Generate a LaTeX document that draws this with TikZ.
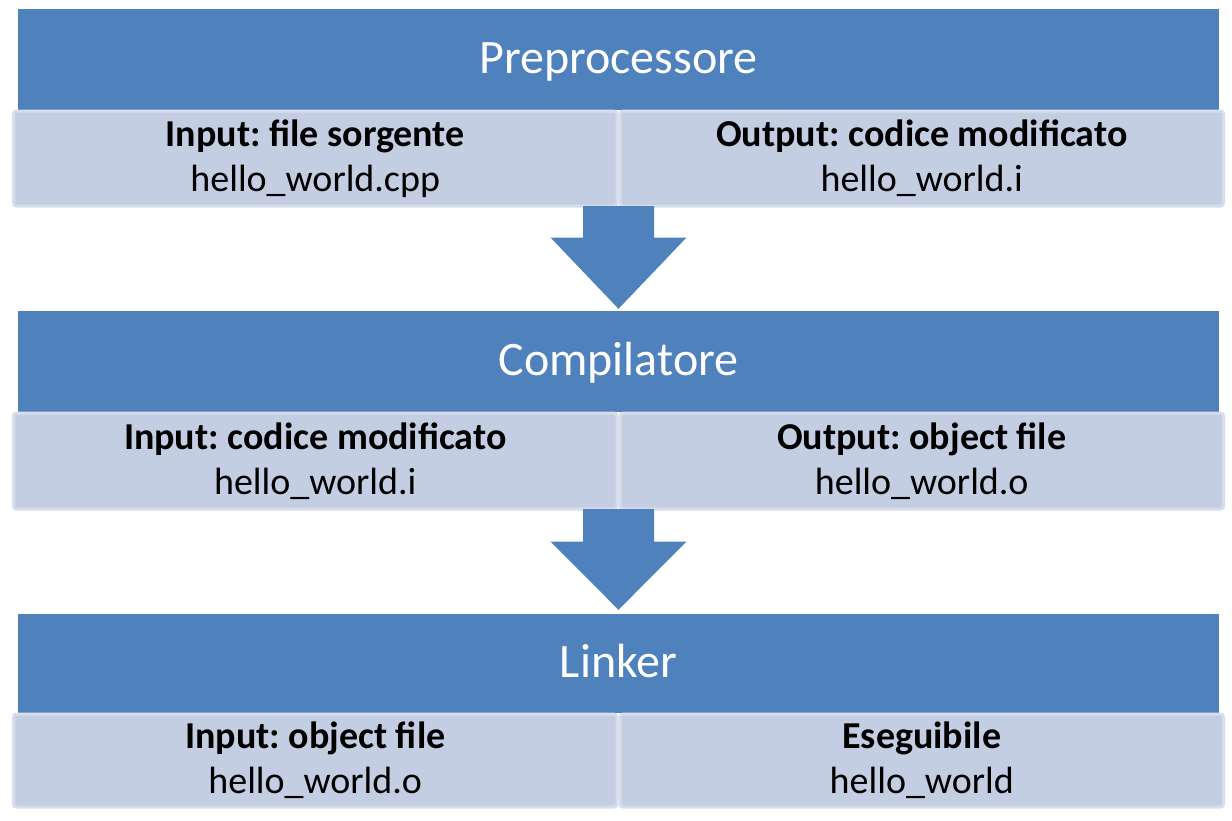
\documentclass[tikz,border=0pt]{standalone}
\usepackage{fontspec}
\setmainfont{Carlito}
\usetikzlibrary{calc}
\frenchspacing
\definecolor{hblue}{RGB}{79,129,189}
\definecolor{cellfill}{RGB}{196,206,227}
\definecolor{cellline}{RGB}{214,221,236}
\tikzset{
  header/.style={fill=hblue, draw=none, inner sep=0pt, text=white, font=\fontsize{48}{56}\selectfont, text height=37pt, text depth=10pt},
  cell/.style={fill=cellfill, draw=cellline, line width=3pt, rounded corners=3pt, inner sep=0pt, align=center, font=\fontsize{38}{45}\selectfont, minimum width=603.5pt},
  blockarrow/.style={fill=hblue, draw=none}
}
\begin{document}
\begin{tikzpicture}[x=1pt,y=-1pt]
\useasboundingbox (0,0) rectangle (1232,820);
% stage 1
\node[header, minimum width=1201pt, minimum height=101pt] (h1) at (618.5,59.5) {Preprocessore};
\node[cell, minimum height=95pt] (l1) at (315.25,158.5) {\textbf{Input: file sorgente}\\hello\_world.cpp};
\node[cell, minimum height=95pt] (r1) at (921.75,158.5) {\textbf{Output: codice modificato}\\hello\_world.i};
% stage 2
\node[header, minimum width=1201pt, minimum height=101pt] (h2) at (618.5,361.5) {Compilatore};
\node[cell, minimum height=96pt] (l2) at (315.25,461) {\textbf{Input: codice modificato}\\hello\_world.i};
\node[cell, minimum height=96pt] (r2) at (921.75,461) {\textbf{Output: object file}\\hello\_world.o};
% stage 3
\node[header, minimum width=1201pt, minimum height=99pt] (h3) at (618.5,663.5) {Linker};
\node[cell, minimum height=93pt] (l3) at (315.25,760.5) {\textbf{Input: object file}\\hello\_world.o};
\node[cell, minimum height=93pt] (r3) at (921.75,760.5) {\textbf{Eseguibile}\\hello\_world};
% arrows
\coordinate (a1) at ($(l1.south east)!0.5!(r1.south west)$);
\coordinate (a1t) at ($(h2.north)+(0,-2)$);
\fill[blockarrow] ($(a1)+(-35.5,-1.5)$) -- ($(a1)+(35.5,-1.5)$) -- ($(a1)+(35.5,30)$) -- ($(a1)+(68,30)$) -- (a1t) -- ($(a1)+(-68,30)$) -- ($(a1)+(-35.5,30)$) -- cycle;
\coordinate (a2) at ($(l2.south east)!0.5!(r2.south west)$);
\coordinate (a2t) at ($(h3.north)+(0,-4)$);
\fill[blockarrow] ($(a2)+(-35.5,-1.5)$) -- ($(a2)+(35.5,-1.5)$) -- ($(a2)+(35.5,31)$) -- ($(a2)+(68,31)$) -- (a2t) -- ($(a2)+(-68,31)$) -- ($(a2)+(-35.5,31)$) -- cycle;
\end{tikzpicture}
\end{document}
